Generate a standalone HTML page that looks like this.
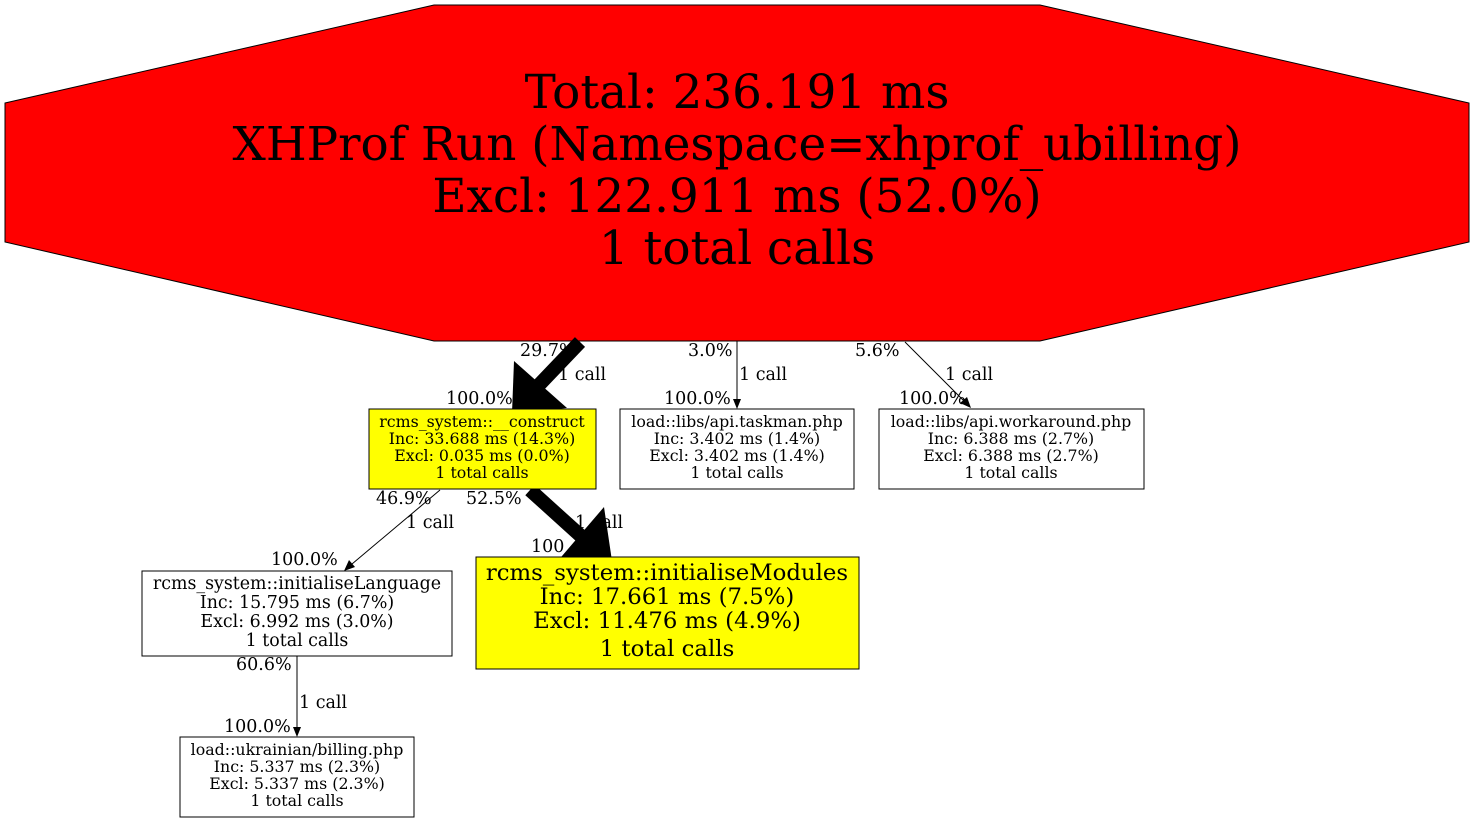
<!DOCTYPE html>
<html><head><meta charset="utf-8"><style>
html,body{margin:0;padding:0;background:#fff;}
svg{display:block;}
text{font-family:"DejaVu Serif","Liberation Serif",serif;fill:#000;}
</style></head><body>
<svg width="1474" height="823" viewBox="0 0 1474 823" xmlns="http://www.w3.org/2000/svg">
<polygon points="5,103 434,5 1040,5 1469,103 1469,242 1040,341 434,341 5,242" fill="#ff0000" stroke="#000" stroke-width="1"/>
<g font-size="46.8" text-anchor="middle">
<text x="737" y="108">Total: 236.191 ms</text>
<text x="737" y="160">XHProf Run (Namespace=xhprof_ubilling)</text>
<text x="737" y="212">Excl: 122.911 ms (52.0%)</text>
<text x="737" y="264">1 total calls</text>
</g>
<!-- edges -->
<line x1="580" y1="342" x2="538" y2="386" stroke="#000" stroke-width="14"/>
<polygon points="514,361 567,408 512,413" fill="#000"/>
<line x1="737" y1="341" x2="737" y2="400" stroke="#000"/>
<polygon points="733,399 741,399 737,409" fill="#000"/>
<line x1="905" y1="342" x2="964" y2="401" stroke="#000"/>
<polygon points="960,403 967,397 971,408" fill="#000"/>
<line x1="440" y1="490" x2="352" y2="564" stroke="#000"/>
<polygon points="349,560 355,567 344,571" fill="#000"/>
<line x1="530" y1="490" x2="582" y2="537" stroke="#000" stroke-width="14"/>
<polygon points="556,563 604,507 612,561" fill="#000"/>
<line x1="297" y1="656" x2="297" y2="728" stroke="#000"/>
<polygon points="293,727 301,727 297,737" fill="#000"/>
<g font-size="17.5">
<text x="520" y="356">29.7%</text>
<text x="558" y="380">1 call</text>
<text x="446" y="404">100.0%</text>
<text x="688" y="356">3.0%</text>
<text x="739" y="380">1 call</text>
<text x="664" y="404">100.0%</text>
<text x="855" y="356">5.6%</text>
<text x="945" y="380">1 call</text>
<text x="899" y="404">100.0%</text>
<text x="376" y="504">46.9%</text>
<text x="466" y="504">52.5%</text>
<text x="406" y="528">1 call</text>
<text x="575" y="528">1 call</text>
<text x="271" y="565">100.0%</text>
<text x="531" y="552">100</text>
<text x="236" y="670">60.6%</text>
<text x="299" y="708">1 call</text>
<text x="224" y="732">100.0%</text>
</g>
<!-- nodes -->
<g font-size="15.8" text-anchor="middle">
<rect x="369" y="409" width="227" height="80" fill="#ffff00" stroke="#000"/>
<text x="482" y="427">rcms_system::__construct</text>
<text x="482" y="444">Inc: 33.688 ms (14.3%)</text>
<text x="482" y="461">Excl: 0.035 ms (0.0%)</text>
<text x="482" y="478">1 total calls</text>
<rect x="620" y="409" width="234" height="80" fill="#fff" stroke="#000"/>
<text x="737" y="427">load::libs/api.taskman.php</text>
<text x="737" y="444">Inc: 3.402 ms (1.4%)</text>
<text x="737" y="461">Excl: 3.402 ms (1.4%)</text>
<text x="737" y="478">1 total calls</text>
<rect x="879" y="409" width="265" height="80" fill="#fff" stroke="#000"/>
<text x="1011" y="427">load::libs/api.workaround.php</text>
<text x="1011" y="444">Inc: 6.388 ms (2.7%)</text>
<text x="1011" y="461">Excl: 6.388 ms (2.7%)</text>
<text x="1011" y="478">1 total calls</text>
<rect x="180" y="737" width="234" height="80" fill="#fff" stroke="#000"/>
<text x="297" y="755">load::ukrainian/billing.php</text>
<text x="297" y="772">Inc: 5.337 ms (2.3%)</text>
<text x="297" y="789">Excl: 5.337 ms (2.3%)</text>
<text x="297" y="806">1 total calls</text>
</g>
<rect x="142" y="571" width="310" height="85" fill="#fff" stroke="#000"/>
<g font-size="17.4" text-anchor="middle">
<text x="297" y="589">rcms_system::initialiseLanguage</text>
<text x="297" y="608">Inc: 15.795 ms (6.7%)</text>
<text x="297" y="627">Excl: 6.992 ms (3.0%)</text>
<text x="297" y="646">1 total calls</text>
</g>
<rect x="476" y="557" width="383" height="112" fill="#ffff00" stroke="#000"/>
<g font-size="22.8" text-anchor="middle">
<text x="667" y="580">rcms_system::initialiseModules</text>
<text x="667" y="604">Inc: 17.661 ms (7.5%)</text>
<text x="667" y="628">Excl: 11.476 ms (4.9%)</text>
<text x="667" y="656">1 total calls</text>
</g>
</svg>
</body></html>
